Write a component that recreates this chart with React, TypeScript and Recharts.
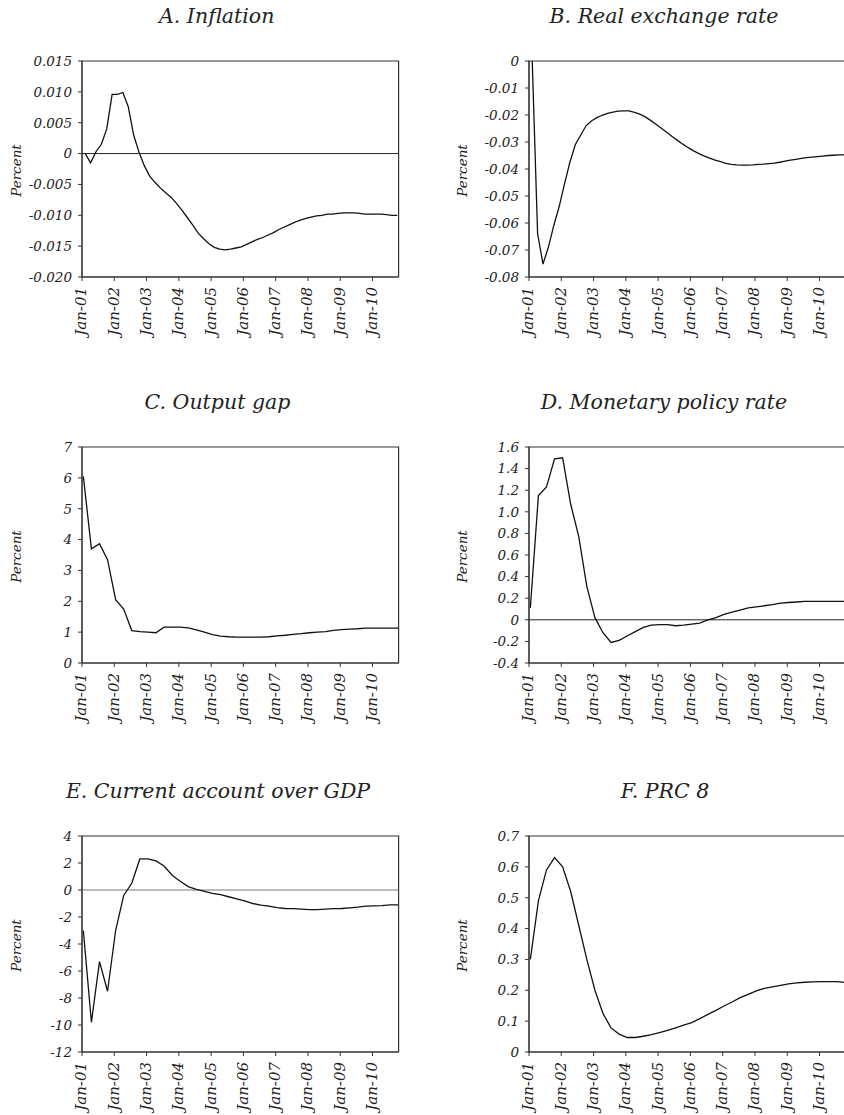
import { Line, LineChart, ReferenceArea, ReferenceLine, XAxis, YAxis } from "recharts";

const FONT = '"DejaVu Serif", serif';
const INK = "#222";

// months since Jan-01 for each observation
const biMonths = Array.from({ length: 59 }, (_, k) => 1.2 + 2 * k);
const quarterMonths = Array.from({ length: 40 }, (_, k) => 0.5 + 3 * k);

const yearTicks = [0, 12, 24, 36, 48, 60, 72, 84, 96, 108];
const yearLabels = ["Jan-01", "Jan-02", "Jan-03", "Jan-04", "Jan-05", "Jan-06", "Jan-07", "Jan-08", "Jan-09", "Jan-10"];

const inflation = [
  0, -0.0015, 0.0003, 0.0015, 0.004, 0.0096, 0.0096, 0.0099, 0.0076, 0.003,
  0.0002, -0.002, -0.0037, -0.0047, -0.0056, -0.0064, -0.0071, -0.0081, -0.0092, -0.0104,
  -0.0116, -0.0129, -0.0138, -0.0146, -0.0152, -0.0155, -0.0156, -0.0155, -0.0153, -0.0151,
  -0.0147, -0.0143, -0.0139, -0.0136, -0.0132, -0.0128, -0.0123, -0.0119, -0.0115, -0.0111,
  -0.0108, -0.0105, -0.0103, -0.0101, -0.01, -0.0098, -0.0098, -0.0097, -0.0096, -0.0096,
  -0.0096, -0.0097, -0.0098, -0.0098, -0.0098, -0.0098, -0.0099, -0.01, -0.01
];

const realExchangeRate = [
  0, -0.064, -0.0752, -0.069, -0.061, -0.054, -0.0455, -0.0375, -0.031, -0.0275,
  -0.024, -0.0222, -0.021, -0.0201, -0.0194, -0.0189, -0.0186, -0.0185, -0.0185, -0.019,
  -0.0197, -0.0207, -0.022, -0.0234, -0.0249, -0.0264, -0.028, -0.0294, -0.0308, -0.0321,
  -0.0333, -0.0343, -0.0352, -0.036, -0.0367, -0.0373, -0.0379, -0.0383, -0.0385, -0.0386,
  -0.0386, -0.0385, -0.0383, -0.0382, -0.038, -0.0378, -0.0375, -0.0371, -0.0367, -0.0364,
  -0.0361, -0.0358, -0.0356, -0.0354, -0.0352, -0.035, -0.0349, -0.0348, -0.0348
];

const outputGap = [
  6.05, 3.7, 3.87, 3.35, 2.05, 1.75, 1.05, 1.02, 1.0, 0.98,
  1.16, 1.16, 1.16, 1.14, 1.07, 1.0, 0.92, 0.87, 0.85, 0.84,
  0.84, 0.84, 0.84, 0.85, 0.88, 0.9, 0.93, 0.95, 0.98, 1.0,
  1.02, 1.06, 1.08, 1.1, 1.11, 1.13, 1.13, 1.13, 1.13, 1.13
];

const policyRate = [
  0.11, 1.15, 1.23, 1.49, 1.5, 1.07, 0.77, 0.31, 0.02, -0.12,
  -0.21, -0.19, -0.15, -0.11, -0.07, -0.05, -0.045, -0.045, -0.055, -0.05,
  -0.04, -0.03, 0.0, 0.02, 0.05, 0.07, 0.09, 0.11, 0.12, 0.13,
  0.14, 0.155, 0.16, 0.165, 0.17, 0.17, 0.17, 0.17, 0.17, 0.17
];

const currentAccount = [
  -3.0, -9.8, -5.3, -7.5, -3.0, -0.4, 0.5, 2.3, 2.3, 2.15,
  1.78, 1.1, 0.65, 0.25, 0.05, -0.1, -0.25, -0.35, -0.5, -0.65,
  -0.8, -1.0, -1.12, -1.2, -1.3, -1.37, -1.38, -1.42, -1.45, -1.45,
  -1.42, -1.38, -1.37, -1.32, -1.27, -1.2, -1.17, -1.15, -1.1, -1.1
];

const prc8 = [
  0.3, 0.49, 0.59, 0.63, 0.6, 0.52, 0.41, 0.3, 0.2, 0.125,
  0.078, 0.058, 0.047, 0.047, 0.051, 0.056, 0.063, 0.07, 0.078, 0.087,
  0.095, 0.108, 0.122, 0.135, 0.149, 0.162, 0.176, 0.187, 0.198, 0.206,
  0.211, 0.216, 0.221, 0.224, 0.226, 0.227, 0.228, 0.228, 0.228, 0.225
];

const ticksA = [-0.02, -0.015, -0.01, -0.005, 0, 0.005, 0.01, 0.015];
const ticksB = [-0.08, -0.07, -0.06, -0.05, -0.04, -0.03, -0.02, -0.01, 0];
const ticksC = [0, 1, 2, 3, 4, 5, 6, 7];
const ticksD = [-0.4, -0.2, 0, 0.2, 0.4, 0.6, 0.8, 1.0, 1.2, 1.4, 1.6];
const ticksE = [-12, -10, -8, -6, -4, -2, 0, 2, 4];
const ticksF = [0, 0.1, 0.2, 0.3, 0.4, 0.5, 0.6, 0.7];

const PLOT_W = 316.6;
const PLOT_H = 216;
const Y_W = 82;
const X_MAX = 117.7;

const fixed = (d: number) => (v: number) => (Math.abs(v) < 1e-9 ? "0" : v.toFixed(d));

function XTick(props: any) {
  const { x, y, payload } = props;
  const i = yearTicks.indexOf(payload.value);
  return (
    <text
      transform={`translate(${x + 4.5},${y + 4}) rotate(-90)`}
      textAnchor="end"
      fontFamily={FONT}
      fontStyle="italic"
      fontSize={15}
      fill={INK}
    >
      {yearLabels[i]}
    </text>
  );
}

type PanelProps = {
  values: number[];
  months: number[];
  domain: [number, number];
  ticks: number[];
  format: (v: number) => string;
  zero?: string;
  left: number;
  top: number;
};

function Panel({ values, months, domain, ticks, format, zero, left, top }: PanelProps) {
  const data = values.map((v, i) => ({ m: months[i], v }));
  return (
    <div style={{ position: "absolute", left: left - Y_W, top: top - 10 }}>
      <LineChart
        width={Y_W + PLOT_W + 20}
        height={10 + PLOT_H + 70}
        data={data}
        margin={{ top: 10, right: 20, bottom: 0, left: 0 }}
      >
        <XAxis
          type="number"
          dataKey="m"
          domain={[0, X_MAX]}
          ticks={yearTicks}
          interval={0}
          allowDataOverflow
          height={70}
          tickSize={4}
          stroke="#333"
          tick={<XTick />}
        />
        <YAxis
          type="number"
          domain={domain}
          ticks={ticks}
          interval={0}
          allowDataOverflow
          width={Y_W}
          tickSize={4}
          tickMargin={6}
          stroke="#333"
          tickFormatter={format}
          tick={{ fontFamily: FONT, fontStyle: "italic", fontSize: 13.5, fill: INK }}
        />
        <ReferenceArea
          x1={0}
          x2={X_MAX}
          y1={domain[0]}
          y2={domain[1]}
          fill="none"
          stroke="#333"
          strokeWidth={1.2}
          ifOverflow="visible"
        />
        {zero && <ReferenceLine y={0} stroke={zero} strokeWidth={1} />}
        <Line
          type="linear"
          dataKey="v"
          stroke="#111"
          strokeWidth={1.3}
          dot={false}
          isAnimationActive={false}
        />
      </LineChart>
    </div>
  );
}

const titles = [
  { text: "A. Inflation", x: 216.7, y: 23.3 },
  { text: "B. Real exchange rate", x: 664, y: 23.3 },
  { text: "C. Output gap", x: 217.5, y: 409.3 },
  { text: "D. Monetary policy rate", x: 664, y: 409.3 },
  { text: "E. Current account over GDP", x: 218, y: 798.3 },
  { text: "F. PRC 8", x: 665, y: 798.3 }
];

const percentLabels = [
  { x: 20.5, y: 170.5 },
  { x: 466.5, y: 170.5 },
  { x: 20.5, y: 556.5 },
  { x: 466.5, y: 556.5 },
  { x: 20.5, y: 945.5 },
  { x: 466.5, y: 945.5 }
];

export default function App() {
  return (
    <div
      style={{
        position: "absolute",
        left: 0,
        top: 0,
        width: 844,
        height: 1115,
        overflow: "hidden",
        background: "#fff"
      }}
    >
      <Panel values={inflation} months={biMonths} domain={[-0.02, 0.015]} ticks={ticksA} format={fixed(3)} zero="#222" left={81.7} top={61} />
      <Panel values={realExchangeRate} months={biMonths} domain={[-0.08, 0]} ticks={ticksB} format={fixed(2)} left={529.3} top={61} />
      <Panel values={outputGap} months={quarterMonths} domain={[0, 7]} ticks={ticksC} format={fixed(0)} left={81.7} top={446.7} />
      <Panel values={policyRate} months={quarterMonths} domain={[-0.4, 1.6]} ticks={ticksD} format={fixed(1)} zero="#222" left={529.3} top={446.7} />
      <Panel values={currentAccount} months={quarterMonths} domain={[-12, 4]} ticks={ticksE} format={fixed(0)} zero="#777" left={81.7} top={836} />
      <Panel values={prc8} months={quarterMonths} domain={[0, 0.7]} ticks={ticksF} format={fixed(1)} left={529.3} top={836} />

      <svg
        width={844}
        height={1115}
        style={{ position: "absolute", left: 0, top: 0, pointerEvents: "none" }}
      >
        {titles.map((t) => (
          <text
            key={t.text}
            x={t.x}
            y={t.y}
            textAnchor="middle"
            fontFamily={FONT}
            fontStyle="italic"
            fontSize={20.5}
            fill={INK}
          >
            {t.text}
          </text>
        ))}
        {percentLabels.map((p, i) => (
          <text
            key={i}
            transform={`translate(${p.x},${p.y}) rotate(-90)`}
            textAnchor="middle"
            fontFamily={FONT}
            fontStyle="italic"
            fontSize={13.5}
            fill={INK}
          >
            Percent
          </text>
        ))}
      </svg>
    </div>
  );
}
